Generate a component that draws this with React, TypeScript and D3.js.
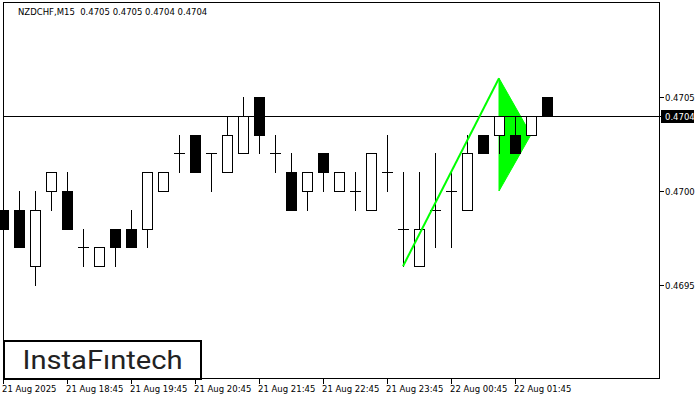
import React from "react";
import * as d3 from "d3";

const title = "NZDCHF,M15  0.4705 0.4705 0.4704 0.4704";
const timeLabels = ["21 Aug 2025", "21 Aug 18:45", "21 Aug 19:45", "21 Aug 20:45", "21 Aug 21:45", "21 Aug 22:45", "21 Aug 23:45", "22 Aug 00:45", "22 Aug 01:45"];
const timeLabelIdx = [0, 4, 8, 12, 16, 20, 24, 28, 32];

const opens = [0.4699, 0.4699, 0.4696, 0.4700, 0.4700, 0.4697, 0.4696, 0.4698, 0.4698, 0.4698, 0.4700, 0.4702, 0.4703, 0.4702, 0.4701, 0.4702, 0.4705, 0.4702, 0.4701, 0.4700, 0.4702, 0.4700, 0.4700, 0.4699, 0.4701, 0.4698, 0.4696, 0.4699, 0.4700, 0.4699, 0.4703, 0.4703, 0.4703, 0.4703, 0.4705];
const highs = [0.4700, 0.4700, 0.4700, 0.4701, 0.4701, 0.4698, 0.4697, 0.4698, 0.4699, 0.4701, 0.4701, 0.4703, 0.4703, 0.4702, 0.4704, 0.4705, 0.4705, 0.4703, 0.4702, 0.4701, 0.4702, 0.4701, 0.4701, 0.4702, 0.4703, 0.4701, 0.4701, 0.4702, 0.4701, 0.4703, 0.4703, 0.4704, 0.4704, 0.4704, 0.4705];
const lows = [0.4697, 0.4697, 0.4695, 0.4699, 0.4698, 0.4696, 0.4696, 0.4696, 0.4697, 0.4697, 0.4700, 0.4701, 0.4701, 0.4700, 0.4701, 0.4702, 0.4702, 0.4701, 0.4699, 0.4699, 0.4700, 0.4700, 0.4699, 0.4699, 0.4700, 0.4696, 0.4696, 0.4697, 0.4697, 0.4699, 0.4702, 0.4702, 0.4702, 0.4703, 0.4704];
const closes = [0.4698, 0.4697, 0.4699, 0.4701, 0.4698, 0.4697, 0.4697, 0.4697, 0.4697, 0.4701, 0.4701, 0.4702, 0.4701, 0.4702, 0.4703, 0.4704, 0.4703, 0.4702, 0.4699, 0.4701, 0.4701, 0.4701, 0.4700, 0.4702, 0.4701, 0.4698, 0.4698, 0.4699, 0.4700, 0.4702, 0.4702, 0.4704, 0.4702, 0.4704, 0.4704];

const priceTicks = [0.4695, 0.4700, 0.4705];
const lastPrice = 0.4704;

const poleIdx = [25, 31];
const polePrice = [0.4696, 0.4706];
const pennantIdx = [31, 33, 31];
const pennantPrice = [0.4706, 0.4703, 0.4700];

const FONT = "'DejaVu Sans', sans-serif";

export default function App() {
  const x = d3.scaleLinear().domain([0, 34]).range([3, 547]);
  const y = d3.scaleLinear().domain([0.4695, 0.4705]).range([285, 97]);
  const px = (i: number) => Math.round(x(i));
  const py = (p: number) => Math.round(y(p));
  const fmt = d3.format(".4f");

  const polePts: [number, number][] = poleIdx.map((i, k) => [x(i), y(polePrice[k])]);
  const pennantPts: [number, number][] = pennantIdx.map((i, k) => [x(i), y(pennantPrice[k])]);
  const line = d3.line();

  return (
    <svg width={700} height={400} style={{ position: "absolute", left: 0, top: 0, background: "#fff" }} shapeRendering="crispEdges">
      <rect x={0} y={0} width={700} height={400} fill="#fff" />
      {/* pennant (background) */}
      <path d={line(pennantPts) + "Z"} fill="#00ff00" stroke="#00ff00" strokeWidth={1} shapeRendering="auto" />
      {/* frame */}
      <rect x={3.5} y={2.5} width={656} height={376} fill="none" stroke="#000" strokeWidth={1} />
      {/* current price line */}
      <line x1={3} x2={660} y1={py(lastPrice) + 0.5} y2={py(lastPrice) + 0.5} stroke="#000" />
      {/* candles */}
      {opens.map((o, i) => {
        const c = px(i);
        const cx = c + 0.5;
        const hi = py(highs[i]);
        const lo = py(lows[i]);
        const yo = py(o);
        const yc = py(closes[i]);
        const top = Math.min(yo, yc);
        const bot = Math.max(yo, yc);
        const bear = closes[i] < o;
        return (
          <g key={i}>
            <line x1={cx} x2={cx} y1={hi} y2={lo + 1} stroke="#000" />
            {top === bot ? (
              <line x1={c - 5} x2={c + 6} y1={top + 0.5} y2={top + 0.5} stroke="#000" />
            ) : (
              <rect x={c - 4.5} y={top + 0.5} width={10} height={bot - top} fill={bear ? "#000" : "#fff"} stroke="#000" />
            )}
          </g>
        );
      })}
      {/* flagpole */}
      <path d={line(polePts) || ""} fill="none" stroke="#00ff00" strokeWidth={2} shapeRendering="auto" />
      {/* title */}
      <text x={18} y={15} fontFamily={FONT} fontSize={8.5} fill="#000" style={{ whiteSpace: "pre" }}>{title}</text>
      {/* right axis */}
      {priceTicks.map((p) => (
        <g key={p}>
          <line x1={660} x2={664} y1={py(p) + 0.5} y2={py(p) + 0.5} stroke="#000" />
          <text x={665} y={py(p) + 3.8} fontFamily={FONT} fontSize={8.5} fill="#000">{fmt(p)}</text>
        </g>
      ))}
      <line x1={660} x2={664} y1={py(lastPrice) + 0.5} y2={py(lastPrice) + 0.5} stroke="#000" />
      <rect x={661} y={py(lastPrice) - 6} width={33} height={13} fill="#000" />
      <text x={665} y={py(lastPrice) + 3.8} fontFamily={FONT} fontSize={8.5} fill="#fff">{fmt(lastPrice)}</text>
      {/* bottom axis */}
      {timeLabelIdx.map((i, k) => (
        <g key={i}>
          <line x1={px(i) + 0.5} x2={px(i) + 0.5} y1={379} y2={384} stroke="#000" />
          <text x={px(i) - 1} y={392} fontFamily={FONT} fontSize={8.5} fill="#000">{timeLabels[k]}</text>
        </g>
      ))}
      {/* logo */}
      <rect x={4} y={340.5} width={197} height={38} fill="#fff" stroke="#000" strokeWidth={2} />
      <text x={22.5} y={369} fontFamily="Roboto, 'Noto Sans', sans-serif" fontWeight={400} fontSize={26} fill="#222" textLength={160} lengthAdjust="spacingAndGlyphs" shapeRendering="auto">InstaFıntech</text>
    </svg>
  );
}
